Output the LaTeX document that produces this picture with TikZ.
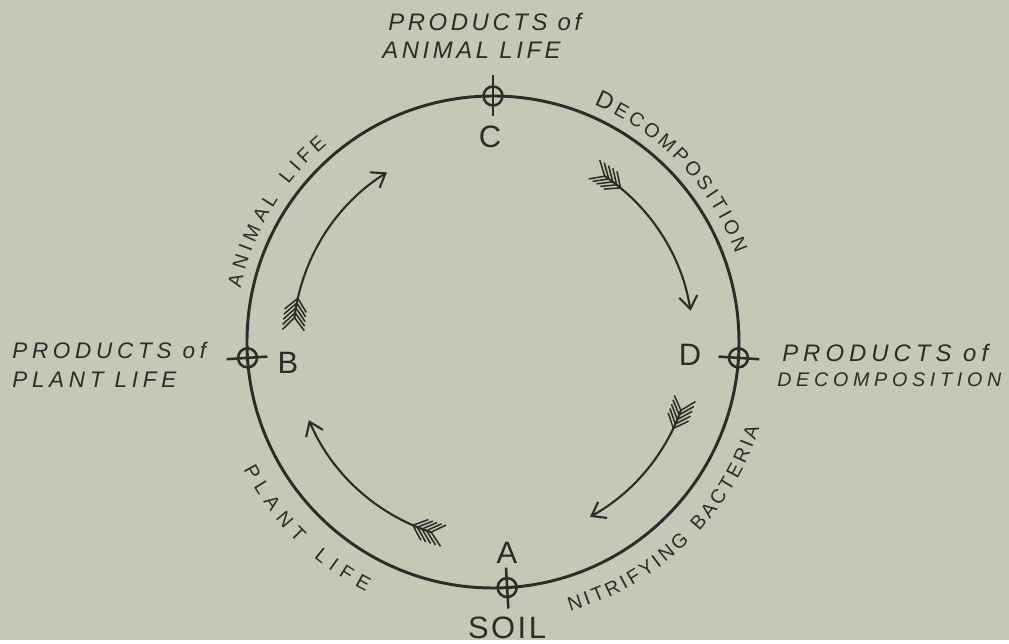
\documentclass[tikz,border=0pt]{standalone}
\usepackage{fontspec}
\setmainfont{Liberation Sans}
\newfontfamily\hand[LetterSpace=10]{Liberation Sans}
\usetikzlibrary{arrows.meta, decorations.text}
\definecolor{paper}{RGB}{197,200,182}
\definecolor{ink}{RGB}{42,46,42}

% font for the words written along the ring
\newcommand{\arcfont}{\hand\fontsize{14}{14}\selectfont}
\newcommand{\arcbig}{\hand\fontsize{17}{17}\selectfont}

% feathers at the tail of a cycle arrow (tail angle on radius 200)
\newcommand{\fletch}[1]{%
  \foreach \k in {0,...,4}{
    \draw[feather] ({#1-\k*1.4+3.6}:211) -- ({#1-\k*1.4}:200) -- ({#1-\k*1.4+3.6}:189);
  }}

\begin{document}
\begin{tikzpicture}[x=0.025cm, y=0.025cm,
    ring/.style={draw=ink, line width=2.1pt},
    flow/.style={draw=ink, line width=1.5pt, -{Straight Barb[length=9pt, width=13pt, line width=1.5pt]}},
    feather/.style={draw=ink, line width=1.1pt},
    crossmark/.style={draw=ink, line width=1.8pt},
    letter/.style={text=ink, font=\fontsize{22}{22}\selectfont},
    caption/.style={text=ink, anchor=west, inner sep=0pt, font=\hand\itshape\fontsize{17}{17}\selectfont\addfontfeatures{LetterSpace=15}},
    ontext/.style={decorate, decoration={text along path, text align={fit to path}, text color=ink, text={#1}}}
]
    % Paper
    \fill[paper] (-493,-298) rectangle (516,342);

    % Ring
    \draw[ring] (0,0) circle[radius=246];

    % Stations on the ring
    \coordinate (A) at (-86.7:246);
    \coordinate (B) at (183.7:246);
    \coordinate (C) at (90:246);
    \coordinate (D) at (-3.7:246);
    \foreach \p/\a in {A/-86.7, B/183.7, C/90, D/-3.7} {
        \draw[crossmark] (\p) circle[radius=9.5];
        \draw[crossmark] (\a:226) -- (\a:267);
    }

    % Station letters
    \node[letter] (lA) at (14,-211) {A};
    \node[letter] (lB) at (-205,-21) {B};
    \node[letter] (lC) at (-3,205) {C};
    \node[letter] (lD) at (197,-13) {D};
    \node[letter, font=\fontsize{22}{22}\selectfont\addfontfeatures{LetterSpace=8}] (soil) at (14,-286) {SOIL};

    % Products
    \node[caption] (animal1) at (-105,320) {PRODUCTS of};
    \node[caption] (animal2) at (-111,292) {ANIMAL LIFE};
    \node[caption, font=\hand\itshape\fontsize{16}{16}\selectfont\addfontfeatures{LetterSpace=21}] (plant1) at (-481,-8) {PRODUCTS of};
    \node[caption, font=\hand\itshape\fontsize{16}{16}\selectfont\addfontfeatures{LetterSpace=21}] (plant2) at (-481,-38) {PLANT LIFE};
    \node[caption, font=\hand\itshape\fontsize{17}{17}\selectfont\addfontfeatures{LetterSpace=21}] (decomp1) at (289,-11) {PRODUCTS of};
    \node[caption, font=\hand\itshape\fontsize{14}{14}\selectfont\addfontfeatures{LetterSpace=24}] (decomp2) at (284,-38) {DECOMPOSITION};

    % Words along the ring
    \path[ontext={|\arcfont|ANIMAL LIFE}] (168:258) arc[start angle=168, end angle=130, radius=258];
    \path[ontext={|\arcbig|D|\arcfont|ECOMPOSITION}] (67:258) arc[start angle=67, end angle=20, radius=258];
    \path[ontext={|\arcfont|NITRIFYING BACTERIA}] (-74:280) arc[start angle=-74, end angle=-18, radius=280];
    \path[ontext={|\arcfont|PLANT LIFE}] (207:280) arc[start angle=207, end angle=243, radius=280];

    % Cycle arrows
    \draw[flow] (173:200) arc[start angle=173, end angle=122, radius=200];
    \fletch{173}
    \draw[flow] (56:200) arc[start angle=56, end angle=9, radius=200];
    \fletch{56}
    \draw[flow] (-20:200) arc[start angle=-20, end angle=-61, radius=200];
    \fletch{-20}
    \draw[flow] (252:200) arc[start angle=252, end angle=203, radius=200];
    \fletch{252}
\end{tikzpicture}
\end{document}
